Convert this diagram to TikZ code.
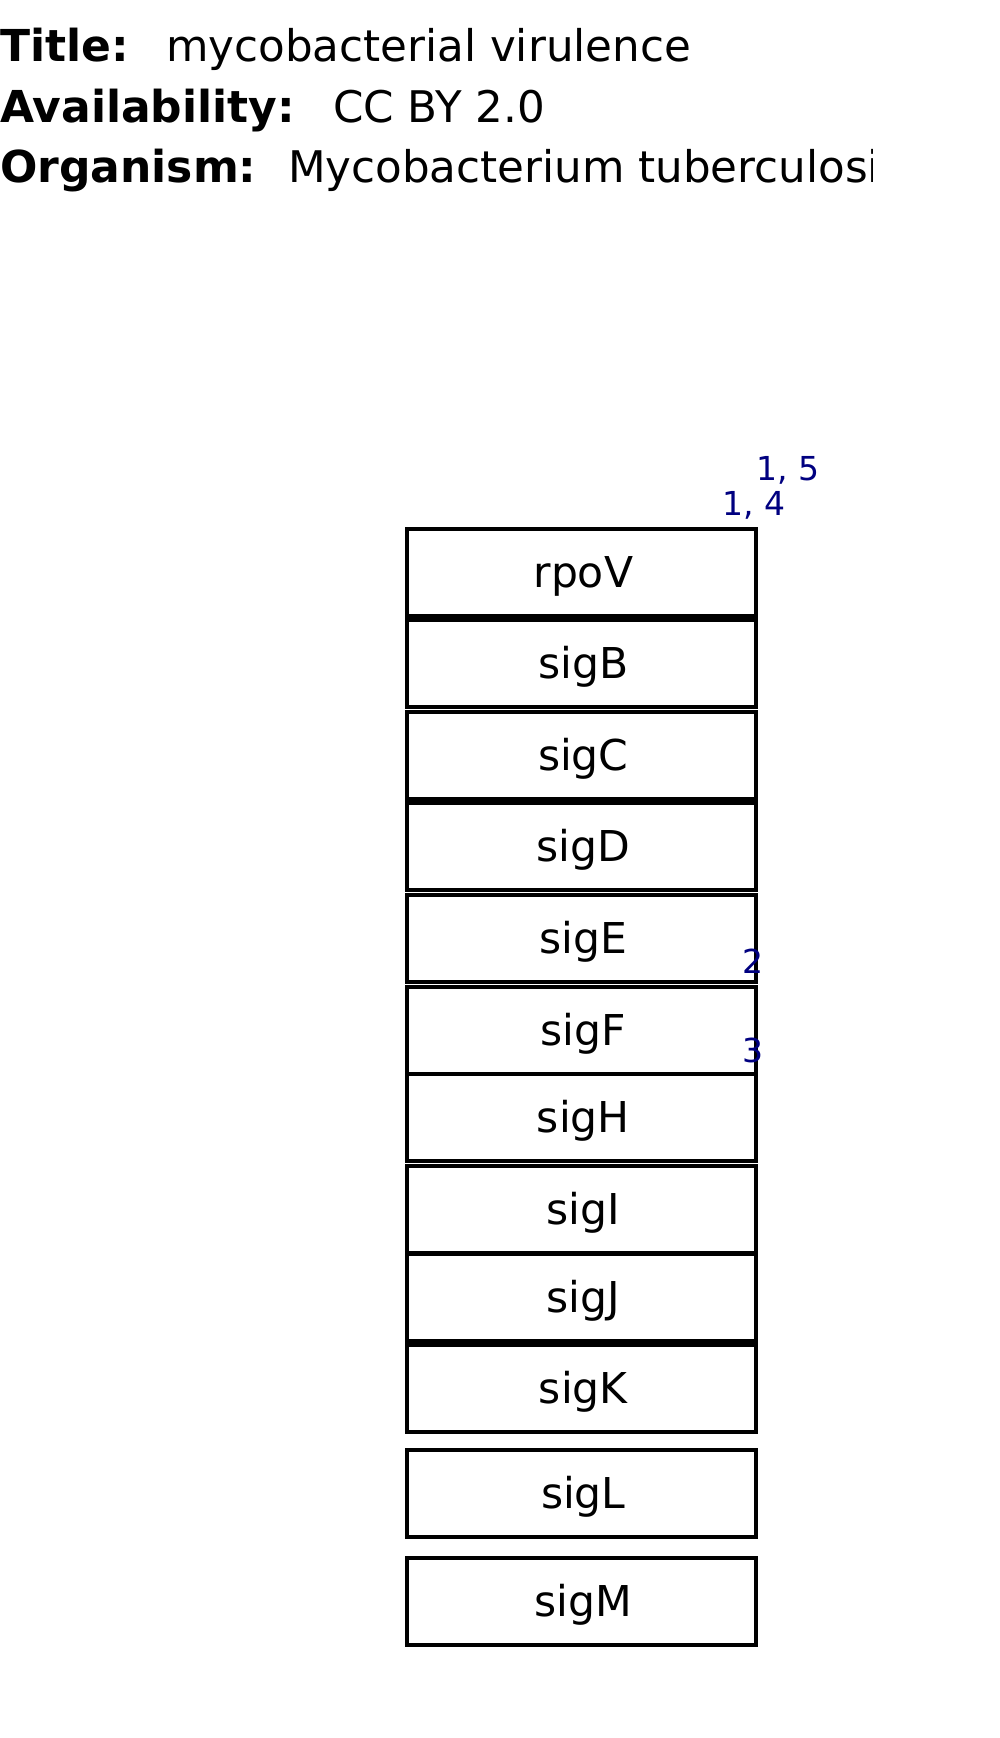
\documentclass[tikz,border=0pt]{standalone}
\usepackage{fontspec}
\setmainfont{DejaVu Sans}
\definecolor{refnavy}{RGB}{0,0,128}
\begin{document}
\begin{tikzpicture}[x=1pt,y=-1pt,
  hdrkey/.style={anchor=base west,inner sep=0pt,font=\fontsize{44}{50}\selectfont\bfseries},
  hdrval/.style={anchor=base west,inner sep=0pt,font=\fontsize{43.6}{50}\selectfont},
  genebox/.style={draw=black,line width=3.6pt,fill=white,anchor=north west,
    minimum width=349pt,minimum height=87pt,inner sep=0pt,
    text height=31pt,text depth=0pt,font=\fontsize{42.5}{50}\selectfont,
    execute at begin node={\hspace*{4pt}}},
  reflabel/.style={inner sep=0pt,text=refnavy,font=\fontsize{33}{38}\selectfont}]
\useasboundingbox (0,0) rectangle (1000,1738);
% header
\node[hdrkey] (tk) at (0,61) {Title:};
\node[hdrval] (tv) at (166,61) {mycobacterial virulence};
\node[hdrkey] (ak) at (0,122) {Availability:};
\node[hdrval] (av) at (333,122) {CC BY 2.0};
\node[hdrkey] (ok) at (0,182) {Organism:};
\begin{scope}
\clip (0,120) rectangle (872,220);
\node[hdrval] (ov) at (288,182) {Mycobacterium tuberculosis};
\end{scope}
% gene boxes
\node[genebox] (rpoV) at (405,527) {rpoV};
\node[genebox] (sigB) at (405,618) {sigB};
\node[genebox] (sigC) at (405,710) {sigC};
\node[genebox] (sigD) at (405,801) {sigD};
\node[genebox] (sigE) at (405,893) {sigE};
\node[genebox] (sigF) at (405,985) {sigF};
\node[genebox] (sigH) at (405,1072) {sigH};
\node[genebox] (sigI) at (405,1164) {sigI};
\node[genebox] (sigJ) at (405,1252) {sigJ};
\node[genebox] (sigK) at (405,1343) {sigK};
\node[genebox] (sigL) at (405,1448) {sigL};
\node[genebox] (sigM) at (405,1556) {sigM};
% reference labels
\node[reflabel,anchor=base west] (r15) at (756,480) {1, 5};
\node[reflabel,anchor=base east] (r14) at (786,515) {1, 4};
\node[reflabel,anchor=base west] (r2) at (742,973) {2};
\node[reflabel,anchor=base west] (r3) at (742,1062) {3};
\end{tikzpicture}
\end{document}
